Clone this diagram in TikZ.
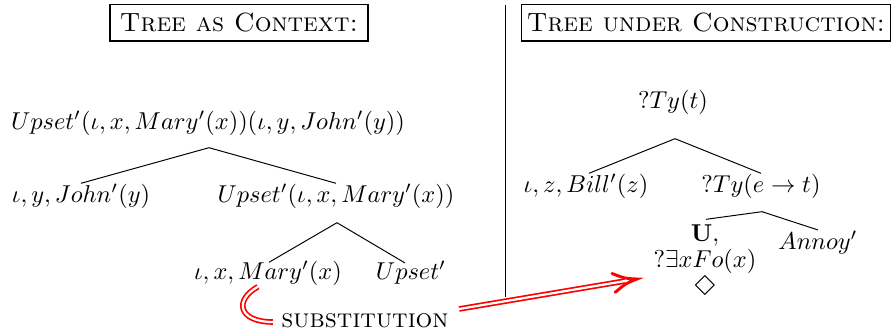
\documentclass[tikz,border=0pt]{standalone}
\usepackage{latexsym}
\usetikzlibrary{arrows.meta,calc}
\begin{document}
\begin{tikzpicture}[x=0.41pt,y=-0.41pt,
  every node/.style={inner sep=0pt},
  ttl/.style={draw, line width=0.45pt, font=\fontsize{10.8}{13}\selectfont\scshape, minimum height=14.8pt},
  edge/.style={line width=0.4pt},
  redline/.style={draw=red, double=white, double distance=0.9pt, line width=0.7pt},
  redhead/.style={draw=red, line width=1.2pt, line join=miter, line cap=round}]
\useasboundingbox (0,0) rectangle (892,333);
% titles
\node[ttl, minimum width=105.8pt] (t1) at (239,23) {Tree as Context:};
\node[ttl, minimum width=151.3pt] (t2) at (706,23) {Tree under Construction:};
% divider
\coordinate (vt) at (505,5);
\coordinate (vb) at (505,297);
\draw[edge] (vt) -- (vb);
% left tree
\node (root) at (208,123) {$Upset'(\iota,x,Mary'(x))(\iota,y,John'(y))$};
\node (john) at (81,196) {$\iota,y,John'(y)$};
\node (ups) at (336,196) {$Upset'(\iota,x,Mary'(x))$};
\node (mary) at (268,273) {$\iota,x,Mary'(x)$};
\node (ups2) at (411,273) {$Upset'$};
\node[font=\fontsize{10.8}{13}\selectfont] (sub) at (365,321) {\textsc{substitution}};
\coordinate (ap1) at ($(root.south)+(1,12)$);
\coordinate (ap2) at ($(ups.south)+(1,14)$);
\draw[edge] (john.north) -- (ap1) -- (ups.north);
\draw[edge] ($(mary.north)+(1,2)$) -- (ap2) -- ($(ups2.north)+(-6,2)$);
% right tree
\node (tyt) at (673,102) {$?Ty(t)$};
\node (bill) at (586,186) {$\iota,z,Bill'(z)$};
\node (tyet) at (761,186) {$?Ty(e\rightarrow t)$};
\node[align=center] (u) at (705,260) {$\mathbf{U},$\\[-1.2pt]$?\exists xFo(x)$\\[-0.8pt]{\fontsize{13}{14}\selectfont$\Diamond$}};
\node (ann) at (818,243) {$Annoy'$};
\coordinate (ap3) at ($(tyt.south)+(2,24)$);
\coordinate (ap4) at ($(tyet.south)+(1,13)$);
\draw[edge] ($(u.north)+(1,-5)$) -- (ap4) -- ($(ann.north)+(0,-1)$);
\draw[edge] ($(bill.north)+(3,0)$) -- (ap3) -- (tyet.north);
% substitution arrow
\coordinate (tgt) at (637,279);
\coordinate (src) at ($(sub.east)+(10,-12)$);
\draw[redline] ($(mary.south)+(-10,1)$) .. controls (234,300) and (238,322) .. ($(sub.west)+(-8,1)$);
\draw[redline] (src) -- ($(tgt)!5pt!(src)$);
\draw[redhead] ($(tgt)!10.5pt!22:(src)$) .. controls ($(tgt)!5pt!12:(src)$) .. (tgt)
  .. controls ($(tgt)!5pt!-12:(src)$) .. ($(tgt)!10.5pt!-22:(src)$);
\end{tikzpicture}
\end{document}
